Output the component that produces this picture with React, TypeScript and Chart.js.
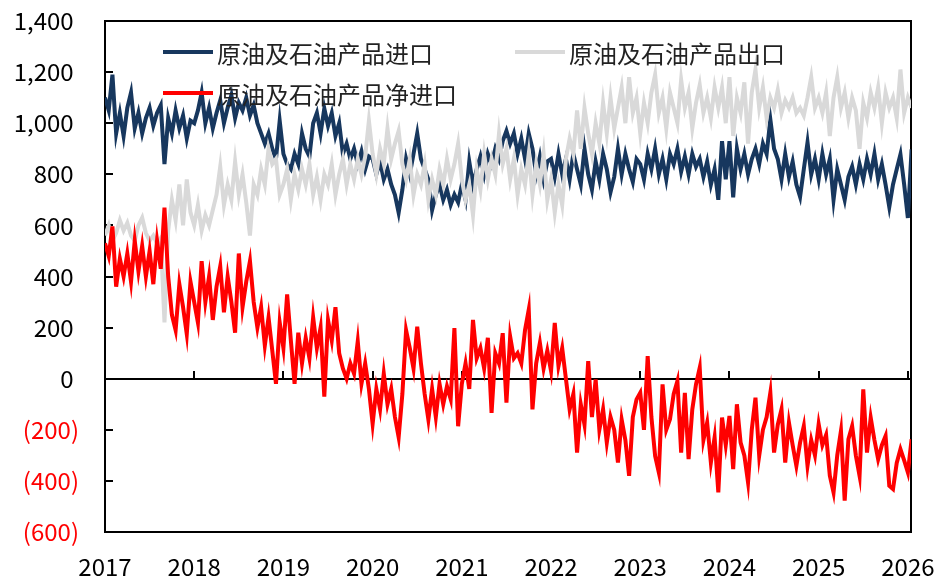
import { useEffect, useRef } from "react";
import { Chart, registerables } from "chart.js";

Chart.register(...registerables);

const START_YEAR = 2017;
const POINTS_PER_YEAR = 24;
const xTickYears = [2017, 2018, 2019, 2020, 2021, 2022, 2023, 2024, 2025, 2026];
const yTickValues = [-600, -400, -200, 0, 200, 400, 600, 800, 1000, 1200, 1400];

const seriesNames = ["原油及石油产品进口", "原油及石油产品出口", "原油及石油产品净进口"];
const seriesColors = ["#17375E", "#D9D9D9", "#FF0000"];

// semi-monthly readings, 2017 .. 2026
const importsSeries = [
  1100, 1050, 1190, 960, 1040, 950, 1060, 1120, 980, 1040, 960, 1020, 1060, 990, 1040, 1070, 840, 1020, 960, 1050, 980, 1030, 940, 1010,
  1000, 1050, 1120, 1000, 1060, 980, 1040, 1090, 1000, 1060, 1110, 1020, 1080, 1050, 1100, 1030, 1070, 1000, 960, 920, 960, 900, 860, 1010,
  880, 840, 820, 880, 840, 960, 900, 870, 1000, 1040, 960, 1058, 990, 1040, 950, 1000, 880, 920, 860, 900, 840, 890, 820, 870,
  860, 800, 850, 780, 820, 760, 720, 650, 740, 860, 800, 880, 960, 860, 820, 780, 660, 720, 760, 700, 740, 680, 720, 690,
  760, 700, 850, 760, 820, 870, 800, 880, 840, 900, 860, 930, 970, 920, 960, 880, 940, 860, 960, 900, 800, 870, 780, 850,
  860, 790, 880, 800, 860, 780, 880, 820, 760, 900, 800, 740, 850, 780, 880, 820, 730, 790, 900, 800, 880, 820, 770, 860,
  840, 780, 880, 820, 900, 800, 860, 780, 880, 840, 900, 810, 870, 800, 880, 830, 860, 790, 850, 760, 820, 700, 930, 780,
  930, 710, 900, 820, 880, 800, 860, 900, 840, 920, 880, 1015, 900, 860, 780, 880, 790, 850, 760, 712, 820, 925, 800, 860,
  780, 880, 800, 860, 700, 820, 760, 700, 790, 830, 760, 840, 780, 860, 800, 880, 780, 840, 760, 672, 760, 820, 878, 760,
  629, 898,
];

const exportsSeries = [
  560, 600, 540, 570, 620, 580, 610, 560, 540, 600, 630, 570, 540, 560, 530, 550, 220, 580, 700, 620, 760, 600, 780, 650,
  600, 680, 580, 640, 600, 660, 720, 830, 680, 760, 700, 850, 720, 800, 690, 560, 760, 720, 820, 760, 900, 840, 860, 720,
  760, 820, 700, 800, 740, 820, 760, 840, 720, 790, 700, 800, 760, 840, 720, 800, 860, 760, 840, 780, 860, 800, 870, 1010,
  880, 800, 900, 840, 980, 860, 920, 970, 840, 780, 860, 720, 800, 760, 840, 700, 780, 720, 820, 760, 860, 780, 840, 920,
  780, 700, 760, 640, 820, 740, 880, 780, 860, 800, 960, 840, 900, 780, 860, 720, 820, 760, 880, 720, 840, 760, 880, 700,
  780, 650, 760, 680, 860, 940, 880, 1050, 900, 1060, 960, 880, 1000, 920, 1080, 960, 1100, 980, 1060, 1140, 1000, 1180, 1040, 1100,
  960, 1080, 1000, 1120, 1190, 1040, 1100, 980, 1120, 1060, 1000, 1170, 1060, 1120, 980, 1080, 1150, 1040, 1100, 1020, 1140, 1060, 1140, 1000,
  1180, 950, 1100, 1040, 1160, 920, 1120, 1210, 1060, 1140, 1020, 1100, 1060, 1130, 1040, 1090, 1060, 1100, 1040, 1060, 1030, 1100, 1180, 1060,
  1100, 1040, 1120, 950, 1100, 1180, 1060, 1120, 1020, 1100, 1050, 900, 1080, 1020, 1120, 1060, 1140, 1000, 1120, 1060, 1100, 1020, 1210, 1040,
  1100, 1060,
];

const netImportsSeries = [
  530, 480, 596, 360, 470, 400, 490, 380, 540, 420, 520, 400, 500, 370, 540, 430, 670, 400, 250, 190, 370, 280, 175, 380,
  300, 220, 460, 300, 400, 230, 360, 440, 260, 400, 300, 180, 490, 280, 380, 460, 300, 200, 280, 130, 240, 110, -20, 220,
  120, 330, 150, -20, 180, 60, 160, 80, 240, 120, 200, -70, 230, 150, 280, 100, 40, 0, 60, 20, 146, -20, 60, -40,
  -177, -40, -120, 20, -100, -40, -150, -229, -60, 190, 120, 40, 204, 60, -60, -160, -40, -150, -20, -100, -30, -80, 198, -186,
  -20, 60, -40, 230, 80, 120, 40, 160, -134, 100, 60, 178, -94, 165, 80, 100, 60, 190, 270, -120, 60, 140, 40, 110,
  30, 218, 50, 120, 0, -120, -60, -289, -100, -180, 69, -150, -3, -200, -120, -250, -150, -200, -328, -160, -240, -380, -150, -81,
  -55, -200, 88, -150, -302, -367, -22, -200, -159, -60, -9, -289, -55, -315, -120, -22, 43, -240, -172, -328, -230, -445, -152, -260,
  -146, -354, -100, -250, -300, -406, -200, -74, -302, -200, -150, -55, -289, -180, -120, -328, -172, -260, -341, -250, -185, -341, -240, -300,
  -178, -260, -220, -380, -445, -300, -204, -477, -237, -185, -300, -380, -42, -289, -152, -240, -315, -260, -224, -419, -432, -330, -276, -320,
  -367, -237,
];

const FONT = "'Noto Sans CJK SC', 'Noto Sans', sans-serif";

function toPoints(vals: number[]) {
  return vals.map((v, i) => ({ x: START_YEAR + i / POINTS_PER_YEAR, y: v }));
}

function fmtTick(v: number) {
  const s = Math.abs(v).toLocaleString("en-US");
  return v < 0 ? `(${s})` : `${s} `;
}

function zeroPadding(scale: any) {
  scale.paddingTop = 0;
  scale.paddingBottom = 0;
  scale.paddingLeft = 0;
  scale.paddingRight = 0;
}

const framePlugin = {
  id: "frame",
  beforeDatasetsDraw(chart: any) {
    const { ctx, chartArea: a, scales } = chart;
    const x = scales.x;
    const y = scales.y;
    ctx.save();
    ctx.strokeStyle = "#000";
    ctx.lineWidth = 2;
    ctx.strokeRect(a.left, a.top, a.right - a.left, a.bottom - a.top);
    const y0 = Math.round(y.getPixelForValue(0));
    ctx.beginPath();
    ctx.moveTo(a.left, y0);
    ctx.lineTo(a.right, y0);
    for (const v of yTickValues) {
      const py = Math.round(y.getPixelForValue(v));
      ctx.moveTo(a.left, py);
      ctx.lineTo(a.left + 8, py);
    }
    for (const yr of xTickYears) {
      const px = Math.round(x.getPixelForValue(yr));
      ctx.moveTo(px, y0);
      ctx.lineTo(px, y0 - 8);
    }
    ctx.stroke();
    ctx.restore();
  },
};

const legendItems = [
  { idx: 0, left: 163, top: 52 },
  { idx: 1, left: 515, top: 52 },
  { idx: 2, left: 163, top: 93 },
];

export default function App() {
  const ref = useRef<HTMLCanvasElement | null>(null);

  useEffect(() => {
    document.body.style.margin = "0";
    if (!ref.current) return;
    const allSeries = [importsSeries, exportsSeries, netImportsSeries];
    const chart = new Chart(ref.current, {
      type: "line",
      data: {
        datasets: allSeries.map((vals, i) => ({
          label: seriesNames[i],
          data: toPoints(vals),
          borderColor: seriesColors[i],
          backgroundColor: seriesColors[i],
          borderWidth: 4,
          pointRadius: 0,
          tension: 0,
          fill: false,
          order: 2 - i,
        })),
      },
      options: {
        animation: false,
        responsive: false,
        maintainAspectRatio: false,
        devicePixelRatio: 1,
        layout: { padding: { left: 0, right: 29, top: 21, bottom: 0 } },
        plugins: {
          legend: { display: false },
          tooltip: { enabled: false },
        },
        scales: {
          x: {
            type: "linear",
            min: 2017,
            max: 2026.035,
            grid: { display: false, drawTicks: false },
            border: { display: false },
            afterBuildTicks: (scale: any) => {
              scale.ticks = xTickYears.map((v) => ({ value: v }));
            },
            afterFit: (scale: any) => {
              scale.height = 48;
              zeroPadding(scale);
            },
            ticks: {
              autoSkip: false,
              maxRotation: 0,
              padding: 20,
              color: "#000",
              font: { family: FONT, size: 24 },
              callback: (v: any) => String(v),
            },
          },
          y: {
            min: -600,
            max: 1400,
            grid: { display: false, drawTicks: false },
            border: { display: false },
            afterFit: (scale: any) => {
              scale.width = 105;
              zeroPadding(scale);
            },
            ticks: {
              stepSize: 200,
              padding: 26,
              color: (c: any) => (c.tick && c.tick.value < 0 ? "#FF0000" : "#000"),
              font: { family: FONT, size: 24 },
              callback: (v: any) => fmtTick(Number(v)),
            },
          },
        },
      },
      plugins: [framePlugin],
    });
    return () => chart.destroy();
  }, []);

  return (
    <div style={{ position: "relative", width: 940, height: 580, background: "#fff" }}>
      <canvas ref={ref} width={940} height={580} style={{ display: "block" }} />
      {legendItems.map((it) => (
        <div
          key={it.idx}
          style={{
            position: "absolute",
            left: it.left,
            top: it.top - 15,
            height: 30,
            display: "flex",
            alignItems: "center",
            fontFamily: FONT,
            fontSize: 24,
            color: "#222",
            whiteSpace: "nowrap",
          }}
        >
          <div style={{ width: 50, height: 4, background: seriesColors[it.idx], marginRight: 4 }} />
          <span>{seriesNames[it.idx]}</span>
        </div>
      ))}
    </div>
  );
}
